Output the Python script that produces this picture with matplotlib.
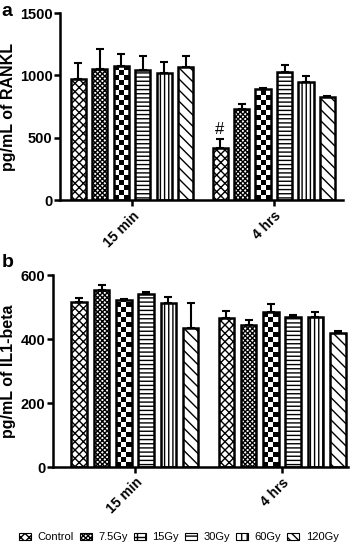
import numpy as np
import matplotlib
matplotlib.use('Agg')
import matplotlib.pyplot as plt
from matplotlib.patches import Patch

plt.rcParams['font.family'] = ['Liberation Sans', 'DejaVu Sans']
plt.rcParams['hatch.linewidth'] = 1.0

# data
doses = ['Control', '7.5Gy', '15Gy', '30Gy', '60Gy', '120Gy']
times = ['15 min', '4 hrs']

rankl_15min = [970, 1050, 1080, 1040, 1020, 1065]
rankl_15min_err = [130, 165, 95, 115, 85, 95]
rankl_4hrs = [420, 730, 890, 1030, 950, 830]
rankl_4hrs_err = [70, 40, 10, 55, 45, 5]

il1_15min = [515, 553, 522, 542, 514, 436]
il1_15min_err = [14, 15, 4, 5, 17, 78]
il1_4hrs = [465, 443, 484, 468, 468, 420]
il1_4hrs_err = [23, 16, 27, 6, 18, 7]

# patterns: hatch string, or 'checker' (big checkerboard drawn as a mesh)
patterns = ['xxxx', 'xxxxxxx', 'checker', '----', '||||', '\\\\\\']
legend_hatch = ['xxxx', 'xxxxxxx', '++', '---', '|||', '\\\\\\\\']

width = 0.7
group_gap = 6.6
x_groups = [np.arange(6), np.arange(6) + group_gap]


def checker_fill(ax, bar, ncols, sq):
    x0 = bar.get_x()
    w = bar.get_width()
    h = bar.get_height()
    nrows = int(np.ceil(h / sq)) + 1
    board = np.indices((nrows, ncols)).sum(0) % 2
    xe = np.linspace(x0, x0 + w, ncols + 1)
    ye = np.arange(nrows + 1) * sq
    mesh = ax.pcolormesh(xe, ye, board, cmap='gray', edgecolors='none',
                         antialiased=False, zorder=2)
    mesh.set_clip_path(bar)


def draw_panel(ax, means, errs, ylim, yticks, ylabel, sq, xlim):
    for g in range(2):
        xs = x_groups[g]
        for i in range(6):
            pat = patterns[i]
            if pat == 'checker':
                b = ax.bar(xs[i], means[g][i], width, color='white', edgecolor='none', zorder=1)[0]
                checker_fill(ax, b, 3, sq)
            else:
                ax.bar(xs[i], means[g][i], width, color='white', edgecolor='black',
                       hatch=pat, linewidth=0, zorder=2)
            ax.bar(xs[i], means[g][i], width, fill=False, edgecolor='black',
                   linewidth=1.8, zorder=3)
        ax.errorbar(xs, means[g], yerr=[np.zeros(6), errs[g]], fmt='none',
                    ecolor='black', elinewidth=1.5, capsize=3.2, capthick=1.5, zorder=4)
    ax.set_xlim(*xlim)
    ax.set_ylim(*ylim)
    ax.set_yticks(yticks)
    ax.set_xticks([x.mean() for x in x_groups])
    ax.set_xticklabels(times, rotation=45, ha='right', rotation_mode='anchor',
                       fontsize=10, fontweight='bold')
    ax.set_ylabel(ylabel, fontsize=11.5, fontweight='bold', labelpad=3)
    for lab in ax.get_yticklabels():
        lab.set_fontweight('bold')
    ax.tick_params(axis='y', labelsize=10.5, width=1.8, length=4, pad=1.5)
    ax.tick_params(axis='x', width=1.8, length=4, pad=2)
    ax.spines['top'].set_visible(False)
    ax.spines['right'].set_visible(False)
    ax.spines['left'].set_linewidth(1.8)
    ax.spines['bottom'].set_linewidth(1.8)


fig = plt.figure(figsize=(3.58, 5.47), dpi=100)
ax1 = fig.add_axes([0.168, 0.634, 0.790, 0.342])
ax2 = fig.add_axes([0.148, 0.146, 0.824, 0.351])

draw_panel(ax1, [rankl_15min, rankl_4hrs], [rankl_15min_err, rankl_4hrs_err],
           (0, 1500), [0, 500, 1000, 1500], 'pg/mL of RANKL', 40, (-0.84, 12.32))
ax1.text(x_groups[1][0], rankl_4hrs[0] + rankl_4hrs_err[0] + 20, '#',
         ha='center', va='bottom', fontsize=12)

draw_panel(ax2, [il1_15min, il1_4hrs], [il1_15min_err, il1_4hrs_err],
           (0, 600), [0, 200, 400, 600], 'pg/mL of IL1-beta', 15.6, (-1.18, 12.06))

fig.text(0.005, 0.995, 'a', fontsize=14, fontweight='bold', va='top')
fig.text(0.005, 0.535, 'b', fontsize=14, fontweight='bold', va='top')

handles = [Patch(facecolor='white', edgecolor='black', hatch=h, linewidth=0.8) for h in legend_hatch]
fig.legend(handles, doses, loc='center', bbox_to_anchor=(0.5, 0.018), ncol=6,
           frameon=False, fontsize=8, handlelength=1.05, handleheight=0.65,
           handletextpad=0.6, columnspacing=0.55, borderaxespad=0)

fig.savefig('out.png', dpi=100)
